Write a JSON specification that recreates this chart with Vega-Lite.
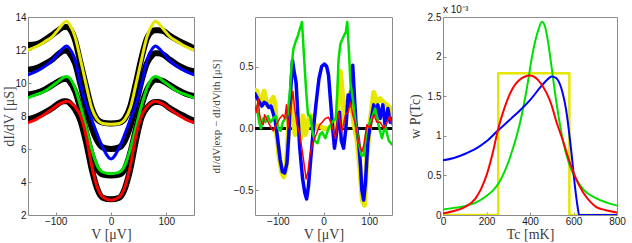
{
"$schema":"https://vega.github.io/schema/vega-lite/v6.json",
"padding":{"left":1,"top":4,"right":0,"bottom":0},
"spacing":14,
"config":{"view":{"stroke":"#8c8c8c","strokeWidth":1},"axis":{"domain":false,"grid":false,"tickColor":"#8c8c8c","tickSize":-3,"labelFont":"Liberation Sans","labelFontSize":10,"labelColor":"#1a1a1a","titleFont":"Liberation Serif","titleFontSize":14,"titleFontWeight":"normal","titleColor":"#404040","labelPadding":5,"labelOverlap":false,"labelFlush":false},"axisX":{"labelPadding":4},"line":{"strokeCap":"round","strokeJoin":"round"}},
"datasets":{
"p1d":[
{"s":"Y","V":-150,"y":12.3},{"s":"Y","V":-135,"y":12.35},{"s":"Y","V":-120,"y":12.6},{"s":"Y","V":-105,"y":12.95},{"s":"Y","V":-95,"y":13.2},{"s":"Y","V":-85,"y":13.4},{"s":"Y","V":-80,"y":13.4},{"s":"Y","V":-75,"y":13.3},{"s":"Y","V":-65,"y":12.6},{"s":"Y","V":-55,"y":11.2},{"s":"Y","V":-45,"y":9.8},{"s":"Y","V":-35,"y":8.5},{"s":"Y","V":-25,"y":7.8},{"s":"Y","V":-15,"y":7.6},{"s":"Y","V":0,"y":7.55},{"s":"Y","V":15,"y":7.6},{"s":"Y","V":25,"y":7.85},{"s":"Y","V":35,"y":8.6},{"s":"Y","V":45,"y":10.0},{"s":"Y","V":55,"y":11.5},{"s":"Y","V":65,"y":12.7},{"s":"Y","V":75,"y":13.15},{"s":"Y","V":80,"y":13.2},{"s":"Y","V":85,"y":13.2},{"s":"Y","V":95,"y":13.15},{"s":"Y","V":105,"y":12.9},{"s":"Y","V":120,"y":12.6},{"s":"Y","V":135,"y":12.35},{"s":"Y","V":150,"y":12.1},
{"s":"B","V":-150,"y":10.8},{"s":"B","V":-135,"y":10.9},{"s":"B","V":-120,"y":11.15},{"s":"B","V":-105,"y":11.45},{"s":"B","V":-95,"y":11.75},{"s":"B","V":-85,"y":11.95},{"s":"B","V":-80,"y":11.95},{"s":"B","V":-75,"y":11.8},{"s":"B","V":-65,"y":11.2},{"s":"B","V":-55,"y":9.9},{"s":"B","V":-45,"y":8.5},{"s":"B","V":-35,"y":7.3},{"s":"B","V":-25,"y":6.5},{"s":"B","V":-15,"y":6.1},{"s":"B","V":0,"y":6.0},{"s":"B","V":15,"y":6.1},{"s":"B","V":25,"y":6.5},{"s":"B","V":35,"y":7.4},{"s":"B","V":45,"y":8.7},{"s":"B","V":55,"y":10.1},{"s":"B","V":65,"y":11.2},{"s":"B","V":75,"y":11.7},{"s":"B","V":80,"y":11.8},{"s":"B","V":85,"y":11.8},{"s":"B","V":95,"y":11.7},{"s":"B","V":105,"y":11.45},{"s":"B","V":120,"y":11.1},{"s":"B","V":135,"y":10.85},{"s":"B","V":150,"y":10.7},
{"s":"G","V":-150,"y":9.3},{"s":"G","V":-135,"y":9.4},{"s":"G","V":-120,"y":9.6},{"s":"G","V":-105,"y":9.9},{"s":"G","V":-95,"y":10.1},{"s":"G","V":-85,"y":10.25},{"s":"G","V":-80,"y":10.25},{"s":"G","V":-75,"y":10.1},{"s":"G","V":-65,"y":9.5},{"s":"G","V":-55,"y":8.4},{"s":"G","V":-45,"y":7.0},{"s":"G","V":-35,"y":5.7},{"s":"G","V":-25,"y":4.8},{"s":"G","V":-15,"y":4.45},{"s":"G","V":0,"y":4.4},{"s":"G","V":15,"y":4.45},{"s":"G","V":25,"y":4.8},{"s":"G","V":35,"y":5.8},{"s":"G","V":45,"y":7.2},{"s":"G","V":55,"y":8.6},{"s":"G","V":65,"y":9.6},{"s":"G","V":75,"y":10.1},{"s":"G","V":80,"y":10.2},{"s":"G","V":85,"y":10.2},{"s":"G","V":95,"y":10.1},{"s":"G","V":105,"y":9.9},{"s":"G","V":120,"y":9.6},{"s":"G","V":135,"y":9.35},{"s":"G","V":150,"y":9.2},
{"s":"R","V":-150,"y":7.8},{"s":"R","V":-135,"y":7.95},{"s":"R","V":-120,"y":8.2},{"s":"R","V":-105,"y":8.5},{"s":"R","V":-95,"y":8.75},{"s":"R","V":-85,"y":8.9},{"s":"R","V":-80,"y":8.9},{"s":"R","V":-75,"y":8.8},{"s":"R","V":-65,"y":8.4},{"s":"R","V":-55,"y":7.7},{"s":"R","V":-45,"y":6.4},{"s":"R","V":-35,"y":4.8},{"s":"R","V":-25,"y":3.6},{"s":"R","V":-15,"y":3.05},{"s":"R","V":0,"y":2.95},{"s":"R","V":15,"y":3.05},{"s":"R","V":25,"y":3.6},{"s":"R","V":35,"y":4.8},{"s":"R","V":45,"y":6.5},{"s":"R","V":55,"y":7.9},{"s":"R","V":65,"y":8.5},{"s":"R","V":75,"y":8.8},{"s":"R","V":80,"y":8.85},{"s":"R","V":85,"y":8.85},{"s":"R","V":95,"y":8.75},{"s":"R","V":105,"y":8.5},{"s":"R","V":120,"y":8.2},{"s":"R","V":135,"y":7.95},{"s":"R","V":150,"y":7.7}
],
"p1f":[
{"s":"Y","V":-150,"y":12.0},{"s":"Y","V":-135,"y":12.2},{"s":"Y","V":-120,"y":12.5},{"s":"Y","V":-105,"y":12.85},{"s":"Y","V":-95,"y":13.25},{"s":"Y","V":-85,"y":13.65},{"s":"Y","V":-80,"y":13.75},{"s":"Y","V":-75,"y":13.55},{"s":"Y","V":-65,"y":12.8},{"s":"Y","V":-55,"y":11.4},{"s":"Y","V":-45,"y":9.9},{"s":"Y","V":-35,"y":8.5},{"s":"Y","V":-25,"y":7.8},{"s":"Y","V":-15,"y":7.55},{"s":"Y","V":0,"y":7.5},{"s":"Y","V":15,"y":7.55},{"s":"Y","V":25,"y":7.8},{"s":"Y","V":35,"y":8.5},{"s":"Y","V":45,"y":9.9},{"s":"Y","V":55,"y":11.4},{"s":"Y","V":65,"y":12.8},{"s":"Y","V":75,"y":13.55},{"s":"Y","V":80,"y":13.75},{"s":"Y","V":85,"y":13.65},{"s":"Y","V":95,"y":13.25},{"s":"Y","V":105,"y":12.85},{"s":"Y","V":120,"y":12.5},{"s":"Y","V":135,"y":12.2},{"s":"Y","V":150,"y":12.0},
{"s":"B","V":-150,"y":10.5},{"s":"B","V":-135,"y":10.7},{"s":"B","V":-120,"y":11.0},{"s":"B","V":-105,"y":11.4},{"s":"B","V":-95,"y":11.8},{"s":"B","V":-85,"y":12.15},{"s":"B","V":-80,"y":12.25},{"s":"B","V":-75,"y":12.1},{"s":"B","V":-65,"y":11.4},{"s":"B","V":-55,"y":9.9},{"s":"B","V":-45,"y":8.7},{"s":"B","V":-35,"y":7.8},{"s":"B","V":-25,"y":6.9},{"s":"B","V":-15,"y":6.1},{"s":"B","V":0,"y":5.4},{"s":"B","V":15,"y":6.1},{"s":"B","V":25,"y":6.9},{"s":"B","V":35,"y":7.8},{"s":"B","V":45,"y":8.7},{"s":"B","V":55,"y":9.9},{"s":"B","V":65,"y":11.4},{"s":"B","V":75,"y":12.1},{"s":"B","V":80,"y":12.25},{"s":"B","V":85,"y":12.15},{"s":"B","V":95,"y":11.8},{"s":"B","V":105,"y":11.4},{"s":"B","V":120,"y":11.0},{"s":"B","V":135,"y":10.7},{"s":"B","V":150,"y":10.5},
{"s":"G","V":-150,"y":9.1},{"s":"G","V":-135,"y":9.3},{"s":"G","V":-120,"y":9.5},{"s":"G","V":-105,"y":9.85},{"s":"G","V":-95,"y":10.1},{"s":"G","V":-85,"y":10.35},{"s":"G","V":-80,"y":10.4},{"s":"G","V":-75,"y":10.3},{"s":"G","V":-65,"y":9.7},{"s":"G","V":-55,"y":8.6},{"s":"G","V":-45,"y":7.3},{"s":"G","V":-35,"y":6.0},{"s":"G","V":-25,"y":5.0},{"s":"G","V":-15,"y":4.6},{"s":"G","V":0,"y":4.5},{"s":"G","V":15,"y":4.6},{"s":"G","V":25,"y":5.0},{"s":"G","V":35,"y":6.0},{"s":"G","V":45,"y":7.3},{"s":"G","V":55,"y":8.6},{"s":"G","V":65,"y":9.7},{"s":"G","V":75,"y":10.3},{"s":"G","V":80,"y":10.4},{"s":"G","V":85,"y":10.35},{"s":"G","V":95,"y":10.1},{"s":"G","V":105,"y":9.85},{"s":"G","V":120,"y":9.5},{"s":"G","V":135,"y":9.3},{"s":"G","V":150,"y":9.1},
{"s":"R","V":-150,"y":7.6},{"s":"R","V":-135,"y":7.8},{"s":"R","V":-120,"y":8.1},{"s":"R","V":-105,"y":8.45},{"s":"R","V":-95,"y":8.7},{"s":"R","V":-85,"y":8.85},{"s":"R","V":-80,"y":8.9},{"s":"R","V":-75,"y":8.85},{"s":"R","V":-65,"y":8.55},{"s":"R","V":-55,"y":8.0},{"s":"R","V":-45,"y":6.8},{"s":"R","V":-35,"y":5.0},{"s":"R","V":-25,"y":3.7},{"s":"R","V":-15,"y":3.1},{"s":"R","V":0,"y":2.9},{"s":"R","V":15,"y":3.1},{"s":"R","V":25,"y":3.7},{"s":"R","V":35,"y":5.0},{"s":"R","V":45,"y":6.8},{"s":"R","V":55,"y":8.0},{"s":"R","V":65,"y":8.55},{"s":"R","V":75,"y":8.85},{"s":"R","V":80,"y":8.9},{"s":"R","V":85,"y":8.85},{"s":"R","V":95,"y":8.7},{"s":"R","V":105,"y":8.45},{"s":"R","V":120,"y":8.1},{"s":"R","V":135,"y":7.8},{"s":"R","V":150,"y":7.6}
],
"p2":[
{"s":"Y","V":-150,"d":0.31},{"s":"Y","V":-146,"d":0.3},{"s":"Y","V":-140,"d":0.2},{"s":"Y","V":-135,"d":0.24},{"s":"Y","V":-130,"d":0.3},{"s":"Y","V":-125,"d":0.19},{"s":"Y","V":-120,"d":0.2},{"s":"Y","V":-115,"d":0.22},{"s":"Y","V":-110,"d":0.25},{"s":"Y","V":-106,"d":0.2},{"s":"Y","V":-103,"d":-0.03},{"s":"Y","V":-97,"d":-0.24},{"s":"Y","V":-91,"d":-0.36},{"s":"Y","V":-87,"d":-0.39},{"s":"Y","V":-82,"d":-0.33},{"s":"Y","V":-78,"d":-0.1},{"s":"Y","V":-75,"d":0.15},{"s":"Y","V":-72,"d":0.25},{"s":"Y","V":-68,"d":0.1},{"s":"Y","V":-62,"d":-0.05},{"s":"Y","V":-56,"d":0.05},{"s":"Y","V":-50,"d":-0.08},{"s":"Y","V":-45,"d":0.1},{"s":"Y","V":-40,"d":-0.05},{"s":"Y","V":-36,"d":0.0},{"s":"Y","V":-31,"d":0.1},{"s":"Y","V":-27,"d":0.1},{"s":"Y","V":-22,"d":0.05},{"s":"Y","V":-16,"d":0.0},{"s":"Y","V":-10,"d":0.02},{"s":"Y","V":0,"d":0.0},{"s":"Y","V":10,"d":0.0},{"s":"Y","V":20,"d":0.02},{"s":"Y","V":26,"d":0.0},{"s":"Y","V":30,"d":0.11},{"s":"Y","V":34,"d":0.35},{"s":"Y","V":37,"d":0.46},{"s":"Y","V":40,"d":0.35},{"s":"Y","V":42,"d":0.24},{"s":"Y","V":45,"d":0.02},{"s":"Y","V":52,"d":0.21},{"s":"Y","V":59,"d":0.29},{"s":"Y","V":66,"d":0.05},{"s":"Y","V":73,"d":-0.08},{"s":"Y","V":80,"d":-0.33},{"s":"Y","V":85,"d":-0.58},{"s":"Y","V":90,"d":-0.62},{"s":"Y","V":95,"d":-0.22},{"s":"Y","V":102,"d":0.05},{"s":"Y","V":110,"d":0.29},{"s":"Y","V":117,"d":0.21},{"s":"Y","V":124,"d":0.24},{"s":"Y","V":132,"d":0.21},{"s":"Y","V":139,"d":0.19},{"s":"Y","V":146,"d":0.16},{"s":"Y","V":150,"d":0.11},
{"s":"B","V":-150,"d":0.28},{"s":"B","V":-146,"d":0.25},{"s":"B","V":-140,"d":0.21},{"s":"B","V":-135,"d":0.18},{"s":"B","V":-130,"d":0.21},{"s":"B","V":-125,"d":0.2},{"s":"B","V":-120,"d":0.17},{"s":"B","V":-115,"d":0.18},{"s":"B","V":-110,"d":0.12},{"s":"B","V":-105,"d":0.05},{"s":"B","V":-100,"d":-0.1},{"s":"B","V":-95,"d":-0.25},{"s":"B","V":-90,"d":-0.35},{"s":"B","V":-85,"d":-0.36},{"s":"B","V":-80,"d":-0.28},{"s":"B","V":-76,"d":-0.05},{"s":"B","V":-72,"d":0.3},{"s":"B","V":-68,"d":0.55},{"s":"B","V":-64,"d":0.45},{"s":"B","V":-60,"d":0.37},{"s":"B","V":-56,"d":0.1},{"s":"B","V":-52,"d":-0.16},{"s":"B","V":-46,"d":-0.4},{"s":"B","V":-41,"d":-0.52},{"s":"B","V":-37,"d":-0.57},{"s":"B","V":-33,"d":-0.47},{"s":"B","V":-28,"d":-0.25},{"s":"B","V":-22,"d":0.0},{"s":"B","V":-16,"d":0.21},{"s":"B","V":-10,"d":0.4},{"s":"B","V":-4,"d":0.5},{"s":"B","V":2,"d":0.52},{"s":"B","V":7,"d":0.5},{"s":"B","V":11,"d":0.43},{"s":"B","V":15,"d":0.24},{"s":"B","V":19,"d":0.05},{"s":"B","V":24,"d":-0.16},{"s":"B","V":30,"d":0.0},{"s":"B","V":35,"d":0.13},{"s":"B","V":39,"d":-0.1},{"s":"B","V":44,"d":-0.16},{"s":"B","V":49,"d":0.0},{"s":"B","V":54,"d":0.27},{"s":"B","V":59,"d":0.2},{"s":"B","V":64,"d":0.51},{"s":"B","V":68,"d":0.24},{"s":"B","V":71,"d":0.05},{"s":"B","V":77,"d":-0.11},{"s":"B","V":81,"d":-0.3},{"s":"B","V":84,"d":-0.5},{"s":"B","V":88,"d":-0.58},{"s":"B","V":92,"d":-0.43},{"s":"B","V":97,"d":-0.11},{"s":"B","V":102,"d":0.02},{"s":"B","V":110,"d":0.19},{"s":"B","V":114,"d":0.11},{"s":"B","V":119,"d":0.19},{"s":"B","V":124,"d":0.08},{"s":"B","V":130,"d":0.19},{"s":"B","V":135,"d":0.02},{"s":"B","V":141,"d":0.16},{"s":"B","V":146,"d":0.05},{"s":"B","V":150,"d":0.08},
{"s":"G","V":-150,"d":0.12},{"s":"G","V":-146,"d":0.18},{"s":"G","V":-141,"d":0.05},{"s":"G","V":-137,"d":0.0},{"s":"G","V":-132,"d":0.08},{"s":"G","V":-127,"d":0.05},{"s":"G","V":-122,"d":0.1},{"s":"G","V":-116,"d":0.05},{"s":"G","V":-110,"d":0.08},{"s":"G","V":-104,"d":0.1},{"s":"G","V":-99,"d":0.0},{"s":"G","V":-94,"d":-0.02},{"s":"G","V":-89,"d":0.05},{"s":"G","V":-84,"d":0.08},{"s":"G","V":-79,"d":0.1},{"s":"G","V":-74,"d":0.27},{"s":"G","V":-70,"d":0.5},{"s":"G","V":-66,"d":0.64},{"s":"G","V":-61,"d":0.7},{"s":"G","V":-56,"d":0.75},{"s":"G","V":-52,"d":0.8},{"s":"G","V":-47,"d":0.86},{"s":"G","V":-43,"d":0.6},{"s":"G","V":-38,"d":0.3},{"s":"G","V":-34,"d":0.11},{"s":"G","V":-29,"d":0.1},{"s":"G","V":-24,"d":-0.03},{"s":"G","V":-19,"d":-0.1},{"s":"G","V":-13,"d":-0.12},{"s":"G","V":-8,"d":-0.05},{"s":"G","V":-3,"d":-0.03},{"s":"G","V":4,"d":-0.08},{"s":"G","V":11,"d":0.0},{"s":"G","V":19,"d":0.05},{"s":"G","V":27,"d":0.08},{"s":"G","V":30,"d":0.27},{"s":"G","V":33,"d":0.56},{"s":"G","V":37,"d":0.68},{"s":"G","V":40,"d":0.71},{"s":"G","V":45,"d":0.75},{"s":"G","V":49,"d":0.78},{"s":"G","V":52,"d":0.86},{"s":"G","V":56,"d":0.6},{"s":"G","V":59,"d":0.37},{"s":"G","V":64,"d":0.24},{"s":"G","V":70,"d":0.05},{"s":"G","V":77,"d":-0.11},{"s":"G","V":83,"d":-0.22},{"s":"G","V":88,"d":-0.22},{"s":"G","V":95,"d":0.0},{"s":"G","V":106,"d":0.08},{"s":"G","V":113,"d":0.16},{"s":"G","V":121,"d":0.02},{"s":"G","V":128,"d":-0.08},{"s":"G","V":135,"d":0.02},{"s":"G","V":143,"d":-0.1},{"s":"G","V":150,"d":-0.13},
{"s":"R","V":-150,"d":0.18},{"s":"R","V":-147,"d":0.13},{"s":"R","V":-143,"d":0.24},{"s":"R","V":-140,"d":0.11},{"s":"R","V":-136,"d":0.05},{"s":"R","V":-132,"d":0.03},{"s":"R","V":-129,"d":0.11},{"s":"R","V":-125,"d":0.08},{"s":"R","V":-121,"d":0.05},{"s":"R","V":-114,"d":0.0},{"s":"R","V":-110,"d":-0.02},{"s":"R","V":-103,"d":0.03},{"s":"R","V":-96,"d":0.08},{"s":"R","V":-89,"d":0.11},{"s":"R","V":-85,"d":0.08},{"s":"R","V":-81,"d":0.19},{"s":"R","V":-78,"d":0.0},{"s":"R","V":-74,"d":0.11},{"s":"R","V":-70,"d":0.2},{"s":"R","V":-67,"d":0.3},{"s":"R","V":-63,"d":0.16},{"s":"R","V":-59,"d":0.05},{"s":"R","V":-52,"d":-0.05},{"s":"R","V":-45,"d":-0.22},{"s":"R","V":-38,"d":-0.41},{"s":"R","V":-34,"d":-0.35},{"s":"R","V":-30,"d":-0.22},{"s":"R","V":-23,"d":-0.11},{"s":"R","V":-16,"d":-0.05},{"s":"R","V":-8,"d":0.03},{"s":"R","V":-3,"d":0.05},{"s":"R","V":4,"d":0.08},{"s":"R","V":11,"d":0.09},{"s":"R","V":18,"d":0.03},{"s":"R","V":26,"d":-0.08},{"s":"R","V":33,"d":0.13},{"s":"R","V":40,"d":-0.03},{"s":"R","V":48,"d":0.11},{"s":"R","V":54,"d":0.13},{"s":"R","V":59,"d":0.21},{"s":"R","V":64,"d":0.11},{"s":"R","V":70,"d":0.03},{"s":"R","V":77,"d":-0.11},{"s":"R","V":84,"d":-0.19},{"s":"R","V":88,"d":-0.14},{"s":"R","V":95,"d":0.03},{"s":"R","V":102,"d":0.0},{"s":"R","V":110,"d":0.11},{"s":"R","V":117,"d":0.05},{"s":"R","V":124,"d":0.05},{"s":"R","V":132,"d":0.0},{"s":"R","V":139,"d":0.05},{"s":"R","V":145,"d":0.1},{"s":"R","V":150,"d":0.03}
],
"p3y":[
{"T":0,"p":0,"o":1},{"T":254,"p":0,"o":2},{"T":254,"p":1.79,"o":3},{"T":581,"p":1.79,"o":4},{"T":581,"p":0,"o":5},{"T":800,"p":0,"o":6}
],
"p3":[
{"s":"G","T":0,"p":0.07},{"s":"G","T":50,"p":0.09},{"s":"G","T":100,"p":0.11},{"s":"G","T":153,"p":0.16},{"s":"G","T":200,"p":0.24},{"s":"G","T":230,"p":0.31},{"s":"G","T":260,"p":0.42},{"s":"G","T":306,"p":0.71},{"s":"G","T":352,"p":1.14},{"s":"G","T":383,"p":1.56},{"s":"G","T":414,"p":2.07},{"s":"G","T":440,"p":2.35},{"s":"G","T":455,"p":2.44},{"s":"G","T":470,"p":2.37},{"s":"G","T":485,"p":2.15},{"s":"G","T":500,"p":1.85},{"s":"G","T":521,"p":1.43},{"s":"G","T":552,"p":0.93},{"s":"G","T":582,"p":0.63},{"s":"G","T":610,"p":0.46},{"s":"G","T":643,"p":0.33},{"s":"G","T":705,"p":0.21},{"s":"G","T":750,"p":0.16},{"s":"G","T":800,"p":0.12},
{"s":"B","T":0,"p":0.69},{"s":"B","T":50,"p":0.72},{"s":"B","T":100,"p":0.77},{"s":"B","T":153,"p":0.84},{"s":"B","T":200,"p":0.93},{"s":"B","T":250,"p":1.06},{"s":"B","T":306,"p":1.2},{"s":"B","T":350,"p":1.31},{"s":"B","T":400,"p":1.45},{"s":"B","T":450,"p":1.62},{"s":"B","T":480,"p":1.71},{"s":"B","T":500,"p":1.75},{"s":"B","T":520,"p":1.73},{"s":"B","T":544,"p":1.6},{"s":"B","T":567,"p":1.31},{"s":"B","T":590,"p":0.8},{"s":"B","T":608,"p":0.33},{"s":"B","T":618,"p":0.12},{"s":"B","T":626,"p":0.0},{"s":"B","T":800,"p":0.0},
{"s":"R","T":0,"p":0.02},{"s":"R","T":50,"p":0.05},{"s":"R","T":100,"p":0.1},{"s":"R","T":150,"p":0.21},{"s":"R","T":175,"p":0.33},{"s":"R","T":200,"p":0.5},{"s":"R","T":230,"p":0.8},{"s":"R","T":253,"p":1.08},{"s":"R","T":280,"p":1.33},{"s":"R","T":306,"p":1.52},{"s":"R","T":350,"p":1.7},{"s":"R","T":400,"p":1.76},{"s":"R","T":450,"p":1.66},{"s":"R","T":500,"p":1.38},{"s":"R","T":521,"p":1.18},{"s":"R","T":550,"p":0.95},{"s":"R","T":582,"p":0.67},{"s":"R","T":610,"p":0.47},{"s":"R","T":643,"p":0.29},{"s":"R","T":680,"p":0.16},{"s":"R","T":705,"p":0.1},{"s":"R","T":750,"p":0.06},{"s":"R","T":800,"p":0.03}
]
},
"hconcat":[
{
"width":166,"height":198,
"layer":[
{"data":{"name":"p1d"},"mark":{"type":"line","color":"black","strokeWidth":6,"interpolate":"monotone","clip":true},
 "encoding":{"x":{"field":"V","type":"quantitative","scale":{"domain":[-150,150],"nice":false},"axis":{"values":[-100,0,100],"tickCount":10,"title":"V [μV]","titlePadding":1,"labelOverlap":false}},
 "y":{"field":"y","type":"quantitative","scale":{"domain":[2,14],"nice":false},"axis":{"values":[2,4,6,8,10,12,14],"tickCount":10,"title":"dI/dV [μS]","minExtent":12,"maxExtent":12,"titlePadding":0,"labelOverlap":false}},
 "detail":{"field":"s"}}},
{"data":{"name":"p1f"},"mark":{"type":"line","strokeWidth":3,"interpolate":"monotone","clip":true},
 "encoding":{"x":{"field":"V","type":"quantitative"},"y":{"field":"y","type":"quantitative"},
 "color":{"field":"s","type":"nominal","scale":{"domain":["Y","B","G","R"],"range":["#e6e600","#0000ff","#00e000","#ff0000"]},"legend":null}}}
]
},
{
"width":137,"height":198,
"data":{"name":"p2"},
"layer":[
{"mark":{"type":"rule","color":"black","strokeWidth":2,"clip":true},"encoding":{"y":{"datum":0}}},
{"transform":[{"filter":"datum.s=='Y'"}],"mark":{"type":"line","color":"#e6e600","strokeWidth":5,"clip":true},
 "encoding":{"x":{"field":"V","type":"quantitative","scale":{"domain":[-150,150],"nice":false},"axis":{"values":[-100,0,100],"tickCount":10,"title":"V [μV]","titlePadding":1,"labelOverlap":false}},
 "y":{"field":"d","type":"quantitative","scale":{"domain":[-0.7,0.9],"nice":false},"axis":{"values":[-0.5,0,0.5],"tickCount":10,"title":"dI/dV|exp − dI/dV|th [μS]","titleFontSize":11,"minExtent":24,"maxExtent":24,"titlePadding":10,"labelOverlap":false}}}},
{"transform":[{"filter":"datum.s=='B'"}],"mark":{"type":"line","color":"#0000ff","strokeWidth":3.5,"clip":true},
 "encoding":{"x":{"field":"V","type":"quantitative"},"y":{"field":"d","type":"quantitative"}}},
{"transform":[{"filter":"datum.s=='G'"}],"mark":{"type":"line","color":"#00e000","strokeWidth":2.5,"clip":true},
 "encoding":{"x":{"field":"V","type":"quantitative"},"y":{"field":"d","type":"quantitative"}}},
{"transform":[{"filter":"datum.s=='R'"}],"mark":{"type":"line","color":"#ff0000","strokeWidth":1.5,"clip":true},
 "encoding":{"x":{"field":"V","type":"quantitative"},"y":{"field":"d","type":"quantitative"}}}
]
},
{
"width":174,"height":198,
"title":{"text":"x 10⁻³","anchor":"start","frame":"group","fontSize":10,"font":"Liberation Sans","fontWeight":"normal","color":"#1a1a1a","offset":-3},
"layer":[
{"data":{"name":"p3y"},"mark":{"type":"line","color":"#e6e600","strokeWidth":2.5,"clip":true},
 "encoding":{"x":{"field":"T","type":"quantitative","scale":{"domain":[0,800],"nice":false},"axis":{"values":[0,200,400,600,800],"tickCount":10,"title":"Tc [mK]","titlePadding":1,"labelOverlap":false}},
 "y":{"field":"p","type":"quantitative","scale":{"domain":[0,2.5],"nice":false},"axis":{"values":[0,0.5,1,1.5,2,2.5],"tickCount":10,"format":"~g","title":"w P(Tc)","minExtent":17,"maxExtent":17,"titlePadding":4,"labelOverlap":false}},
 "order":{"field":"o"}}},
{"data":{"name":"p3"},"mark":{"type":"line","strokeWidth":2,"interpolate":"monotone","clip":true},
 "encoding":{"x":{"field":"T","type":"quantitative"},"y":{"field":"p","type":"quantitative"},
 "color":{"field":"s","type":"nominal","scale":{"domain":["G","B","R"],"range":["#00e000","#0000ff","#ff0000"]},"legend":null}}}
]
}
]
}
